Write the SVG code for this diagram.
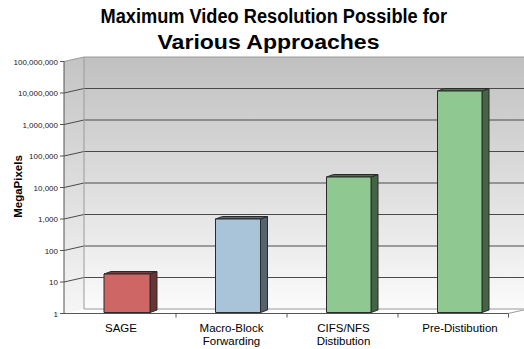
<svg xmlns="http://www.w3.org/2000/svg" width="524" height="349" viewBox="0 0 524 349">
<defs>
<linearGradient id="wall" x1="0" y1="0" x2="0" y2="1">
<stop offset="0" stop-color="#c0c0c0"/>
<stop offset="1" stop-color="#fbfbfb"/>
</linearGradient>
<linearGradient id="side" x1="0" y1="0" x2="0" y2="1">
<stop offset="0" stop-color="#c4c4c4"/>
<stop offset="1" stop-color="#f6f6f6"/>
</linearGradient>
<style>
.grid{stroke:#4a4a4a;stroke-width:1;fill:none}
.edge{stroke:#9a9a9a;stroke-width:1;fill:none}
.axis{stroke:#555;stroke-width:1;fill:none}
.ylab{font-family:"Liberation Sans",Arial,sans-serif;font-size:8px;fill:#222;text-anchor:end}
.xlab{font-family:"Liberation Sans",Arial,sans-serif;font-size:11.5px;fill:#000;text-anchor:middle}
.title{font-family:"Liberation Sans",Arial,sans-serif;font-weight:bold;font-size:20px;fill:#000}
.bar{stroke:#2a2a2a;stroke-width:1;stroke-linejoin:round}
</style>
</defs>
<rect width="524" height="349" fill="#fff"/>
<g id="title">
<text class="title" x="100.5" y="23" textLength="346.5" lengthAdjust="spacingAndGlyphs">Maximum Video Resolution Possible for</text>
<text class="title" x="157.5" y="48.5" textLength="222" lengthAdjust="spacingAndGlyphs">Various Approaches</text>
</g>
<g id="plot-area">
<polygon points="84,57 524,57 524,309 84,309" fill="url(#wall)"/>
<polygon points="64,61.5 84,57 84,309 64,313.5" fill="url(#side)"/>
<polygon points="64,313.5 84,309 528,309 508,313.5" fill="#fff"/>
<g id="gridlines">
<line class="edge" x1="84" y1="57" x2="524" y2="57"/>
<line class="edge" x1="64" y1="61.5" x2="84" y2="57"/>
<line class="grid" x1="84" y1="88.5" x2="524" y2="88.5"/><line class="grid" x1="64" y1="93" x2="84" y2="88.5"/>
<line class="grid" x1="84" y1="120" x2="524" y2="120"/><line class="grid" x1="64" y1="124.5" x2="84" y2="120"/>
<line class="grid" x1="84" y1="151.5" x2="524" y2="151.5"/><line class="grid" x1="64" y1="156" x2="84" y2="151.5"/>
<line class="grid" x1="84" y1="183" x2="524" y2="183"/><line class="grid" x1="64" y1="187.5" x2="84" y2="183"/>
<line class="grid" x1="84" y1="214.5" x2="524" y2="214.5"/><line class="grid" x1="64" y1="219" x2="84" y2="214.5"/>
<line class="grid" x1="84" y1="246" x2="524" y2="246"/><line class="grid" x1="64" y1="250.5" x2="84" y2="246"/>
<line class="grid" x1="84" y1="277.5" x2="524" y2="277.5"/><line class="grid" x1="64" y1="282" x2="84" y2="277.5"/>
<line class="edge" x1="84" y1="57" x2="84" y2="309"/>
<line class="edge" x1="84" y1="309" x2="528" y2="309"/>
<line class="edge" x1="508" y1="313.5" x2="528" y2="309"/>
</g>
</g>
<g id="axes">
<line class="axis" x1="64" y1="61" x2="64" y2="314"/>
<line class="axis" x1="64" y1="313.5" x2="508" y2="313.5"/>
<g id="yticks">
<line class="axis" x1="60" y1="61.5" x2="64" y2="61.5"/>
<line class="axis" x1="60" y1="93" x2="64" y2="93"/>
<line class="axis" x1="60" y1="124.5" x2="64" y2="124.5"/>
<line class="axis" x1="60" y1="156" x2="64" y2="156"/>
<line class="axis" x1="60" y1="187.5" x2="64" y2="187.5"/>
<line class="axis" x1="60" y1="219" x2="64" y2="219"/>
<line class="axis" x1="60" y1="250.5" x2="64" y2="250.5"/>
<line class="axis" x1="60" y1="282" x2="64" y2="282"/>
<line class="axis" x1="60" y1="313.5" x2="64" y2="313.5"/>
</g>
<g id="xticks">
<line class="axis" x1="176" y1="313.5" x2="176" y2="317.5"/>
<line class="axis" x1="287" y1="313.5" x2="287" y2="317.5"/>
<line class="axis" x1="398" y1="313.5" x2="398" y2="317.5"/>
<line class="axis" x1="508.5" y1="313.5" x2="508.5" y2="317.5"/>
</g>
<g id="ylabels">
<text class="ylab" x="58" y="65">100,000,000</text>
<text class="ylab" x="58" y="96">10,000,000</text>
<text class="ylab" x="58" y="127.5">1,000,000</text>
<text class="ylab" x="58" y="159">100,000</text>
<text class="ylab" x="58" y="190.5">10,000</text>
<text class="ylab" x="58" y="222">1,000</text>
<text class="ylab" x="58" y="253.5">100</text>
<text class="ylab" x="58" y="285">10</text>
<text class="ylab" x="58" y="316.5">1</text>
</g>
<text id="ytitle" transform="translate(21.5,186.5) rotate(-90)" font-family="Liberation Sans,Arial,sans-serif" font-size="11.5" font-weight="bold" text-anchor="middle">MegaPixels</text>
</g>
<g id="bar-sage">
<polygon class="bar" points="150,274 157,271.5 157,310 150,312.5" fill="#6b3434"/>
<polygon class="bar" points="104,274 150,274 157,271.5 111,271.5" fill="#7a3c3c"/>
<rect class="bar" x="104" y="274" width="46" height="38.5" fill="#cf6666"/>
<text class="xlab" x="121" y="332">SAGE</text>
</g>
<g id="bar-macro">
<polygon class="bar" points="260.5,219 267.5,216.5 267.5,310 260.5,312.5" fill="#55636f"/>
<polygon class="bar" points="215.5,219 260.5,219 267.5,216.5 222.5,216.5" fill="#5d6a76"/>
<rect class="bar" x="215.5" y="219" width="45" height="93.5" fill="#a9c3d8"/>
<text class="xlab" x="231.5" y="332">Macro-Block</text>
<text class="xlab" x="231.5" y="345">Forwarding</text>
</g>
<g id="bar-cifs">
<polygon class="bar" points="371,177 378,174.5 378,310 371,312.5" fill="#456345"/>
<polygon class="bar" points="326.5,177 371,177 378,174.5 333.5,174.5" fill="#4e6e4f"/>
<rect class="bar" x="326.5" y="177" width="44.5" height="135.5" fill="#8fc891"/>
<text class="xlab" x="343.5" y="332">CIFS/NFS</text>
<text class="xlab" x="343.5" y="345">Distibution</text>
</g>
<g id="bar-pre">
<polygon class="bar" points="482,91 489,88.5 489,310 482,312.5" fill="#456345"/>
<polygon class="bar" points="437.5,91 482,91 489,88.5 444.5,88.5" fill="#4e6e4f"/>
<rect class="bar" x="437.5" y="91" width="44.5" height="221.5" fill="#8fc891"/>
<text class="xlab" x="460" y="332">Pre-Distibution</text>
</g>
</svg>
